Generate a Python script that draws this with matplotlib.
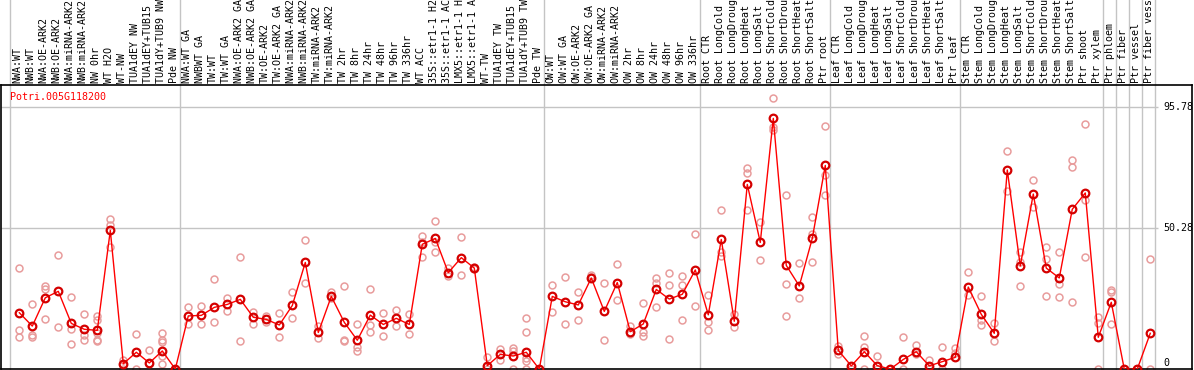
import matplotlib
matplotlib.use("Agg")
import matplotlib.pyplot as plt
import matplotlib.transforms as mtransforms

gene = "Potri.005G118200"

samples = [
    "NWA:WT", "NWB:WT", "NWA:OE-ARK2", "NWB:OE-ARK2", "NWA:miRNA-ARK2",
    "NWB:miRNA-ARK2", "NW 0hr", "WT H2O", "WT-NW", "TUA1dEY NW",
    "TUA1dEY+TUB15 NW", "TUA1dY+TUB9 NW", "Pde NW",
    "NWA:WT GA", "NWBWT GA", "TW:WT", "TW:WT GA", "NWA:OE-ARK2 GA",
    "NWB:OE-ARK2 GA", "TW:OE-ARK2", "TW:OE-ARK2 GA", "NWA:miRNA-ARK2 GA",
    "NWB:miRNA-ARK2 GA", "TW:miRNA-ARK2", "TW:miRNA-ARK2 GA", "TW 2hr",
    "TW 8hr", "TW 24hr", "TW 48hr", "TW 96hr", "TW 336hr", "WT ACC",
    "35S::etr1-1 H2O", "35S::etr1-1 ACC", "LMX5::etr1-1 H2O",
    "LMX5::etr1-1 ACC", "WT-TW", "TUA1dEY TW", "TUA1dEY+TUB15 TW",
    "TUA1dY+TUB9 TW", "Pde TW",
    "OW:WT", "OW:WT GA", "OW:OE-ARK2", "OW:OE-ARK2 GA", "OW:miRNA-ARK2",
    "OW:miRNA-ARK2 GA", "OW 2hr", "OW 8hr", "OW 24hr", "OW 48hr",
    "OW 96hr", "OW 336hr",
    "Root CTR", "Root LongCold", "Root LongDrought", "Root LongHeat",
    "Root LongSalt", "Root ShortCold", "Root ShortDrought",
    "Root ShortHeat", "Root ShortSalt", "Ptr root",
    "Leaf CTR", "Leaf LongCold", "Leaf LongDrought", "Leaf LongHeat",
    "Leaf LongSalt", "Leaf ShortCold", "Leaf ShortDrought",
    "Leaf ShortHeat", "Leaf ShortSalt", "Ptr leaf",
    "Stem CTR", "Stem LongCold", "Stem LongDrought", "Stem LongHeat",
    "Stem LongSalt", "Stem ShortCold", "Stem ShortDrought",
    "Stem ShortHeat", "Stem ShortSalt", "Ptr shoot",
    "Ptr xylem", "Ptr phloem", "Ptr fiber", "Ptr vessel", "Ptr fiber vessel",
]

means = [
    18.7, 13.7, 24.3, 26.7, 14.7, 12.5, 12.1, 49.5, -0.4, 3.9,
    -0.1, 4.4, -2.4, 17.5, 17.7, 20.7, 21.8, 23.7, 17.0, 16.2,
    14.1, 21.4, 37.5, 11.3, 24.8, 15.1, 8.4, 17.8, 14.3, 16.6,
    14.3, 44.3, 46.5, 33.7, 39.3, 35.4, -1.1, 3.1, 2.5, 3.9,
    -2.4, 24.8, 22.8, 21.6, 31.7, 19.2, 30.0, 11.6, 14.5, 27.4,
    23.8, 25.6, 34.7, 17.9, 46.1, 15.5, 66.7, 45.0, 91.4, 36.4,
    28.7, 46.5, 73.8, 4.6, -1.2, 4.1, -1.1, -2.4, 1.2, 4.1,
    -1.2, 0.4, 2.0, 28.3, 18.1, 11.0, 72.1, 36.2, 63.1, 35.4,
    31.7, 57.4, 63.5, 9.5, 22.6, -2.4, -2.4, 11.0,
]

replicates = [
    [35.4, 12.1, 9.6], [21.8, 10.3, 9.6], [28.6, 27.6, 16.2], [40.2, 13.2],
    [24.6, 12.7, 7.0], [18.2, 10.3, 8.6], [17.3, 16.1, 11.1, 8.6, 8.1],
    [53.7, 51.7, 43.4], [0.9, -2.4], [10.6, -2.4], [4.6, -0.1],
    [11.1, 8.6, 7.6, 2.6, -0.6], [-2.4], [20.7, 14.5], [21.1, 14.6],
    [31.5, 15.3], [24.1, 19.5], [39.4, 8.0], [19.1, 14.6], [17.3, 15.1],
    [18.5, 9.6], [26.3, 16.6], [45.9, 29.7], [13.8, 9.1], [26.3, 24.1],
    [28.7, 8.4, 8.1], [14.3, 5.9, 4.4], [27.6, 14.1, 11.3], [18.5, 9.9],
    [19.7, 13.8], [18.3, 10.6], [47.5, 45.3, 39.5], [53.0, 45.0, 41.5],
    [35.4, 32.5], [46.9, 32.7], [35.9, 34.9], [2.2, -2.4], [5.1, 0.9],
    [5.6, 4.5, -2.4], [16.6, 11.6, 1.6, 0.6, -2.4], [-2.4],
    [29.1, 19.1], [31.9, 14.3], [26.6, 15.8], [32.7, 31.9], [30.0, 8.4],
    [36.8, 23.3], [13.6, 10.6], [22.2, 11.3, 9.9], [31.8, 30.0, 20.7],
    [33.4, 29.1, 8.7], [32.4, 29.1, 15.8], [48.1, 21.2],
    [25.3, 15.3, 12.1], [57.0, 41.5, 39.8], [18.1, 13.2],
    [72.9, 70.9, 57.0], [52.5, 38.4], [98.9, 88.3, 87.0],
    [62.7, 29.3, 17.5], [37.2, 24.1], [54.4, 48.0, 37.7],
    [88.4, 70.2, 62.7], [6.1, 3.1], [-2.4], [10.1, 5.7, -2.4],
    [2.5, -2.4], [-2.4], [9.5, -2.4], [6.6, 3.1], [1.1, -2.4],
    [5.7, -2.4], [5.4, 3.5], [33.8, 25.3], [24.9, 15.8, 14.1],
    [14.7, 8.0], [79.1, 64.3], [41.5, 37.8, 28.6], [68.2, 58.2],
    [43.1, 38.8, 24.9], [41.3, 29.3, 24.6], [75.7, 73.4, 22.8],
    [89.2, 60.8, 39.4], [17.2, 14.7, -2.4], [27.3, 26.3, 14.5],
    [-2.4], [-2.4], [38.8, -2.4],
]

grid_values = [50.28, 95.78]
tick_labels = ["0", "50.28", "95.78"]
tick_values = [0, 50.28, 95.78]
separators = [-0.72, 12.36, 40.38, 52.36, 62.36, 72.36, 83.4, 84.38, 85.4, 86.4, 87.4]

W, H = 1194, 370
fig = plt.figure(figsize=(W / 100, H / 100), dpi=100)
# plot box: x 1..1192 px, y 85..369 px (from top)
ax = fig.add_axes([1 / W, 1 / H, 1191 / W, 284 / H])
ax.set_xlim(-1.408, 90.21)
ax.set_ylim(-2.36, 103.9)
ax.set_xticks([])
ax.set_yticks([])
for s in ax.spines.values():
    s.set_color("black")
    s.set_linewidth(1.2)

grey = "#c4c4c4"
for y in grid_values:
    ax.hlines(y, -1.408, 87.6, color=grey, lw=1, zorder=1)

# group separators run from the bottom of the plot up through the label area
for x in separators:
    ax.axvline(x, ymin=0, ymax=369 / 284, color=grey, lw=1, clip_on=False, zorder=1)

xs = list(range(len(samples)))
for i, reps in enumerate(replicates):
    ax.plot([i] * len(reps), reps, linestyle="none", marker="o", ms=5,
            mfc="none", mec="#e89c9c", mew=1.1, zorder=2)

ax.plot(xs, means, color="red", lw=1, zorder=3)
ax.plot(xs, means, linestyle="none", marker="o", ms=5.5, mfc="none",
        mec="#d40000", mew=1.6, zorder=4)

mono = "DejaVu Sans Mono"
trans = mtransforms.blended_transform_factory(ax.transData, ax.transAxes)
for i, name in enumerate(samples):
    ax.text(i - 0.12, 1 + 2 / 284, name, rotation=90, ha="center", va="bottom",
            transform=trans, fontsize=7.2, family=mono, color="black")

for v, t in zip(tick_values, tick_labels):
    ax.text(87.98, v, t, ha="left", va="center", fontsize=7.2, family=mono,
            color="black")

ax.text(9 / 1191, 1 - 12 / 284, gene, transform=ax.transAxes, ha="left",
        va="center", fontsize=7.2, family=mono, color="red")

fig.savefig("out.png", dpi=100)
